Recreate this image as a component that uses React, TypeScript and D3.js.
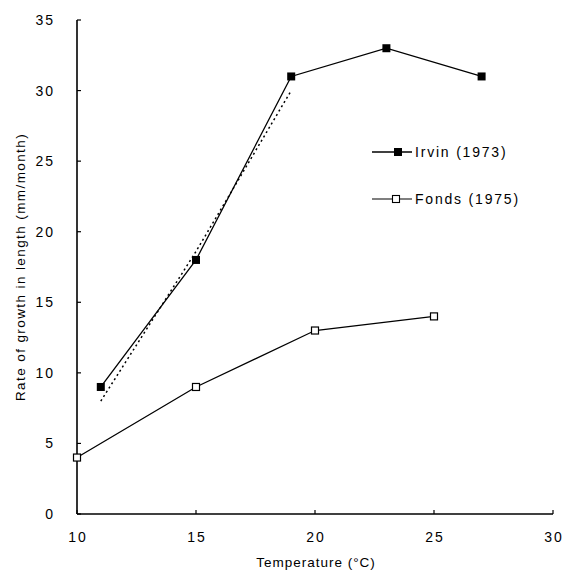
import React from "react";
import * as d3 from "d3";

const irvinTemp = [11, 15, 19, 23, 27];
const irvinRate = [9, 18, 31, 33, 31];
const fondsTemp = [10, 15, 20, 25];
const fondsRate = [4, 9, 13, 14];
const fitTemp = [11, 15, 19];
const fitRate = [8, 18.6, 30];
const xTicks = [10, 15, 20, 25, 30];
const yTicks = [0, 5, 10, 15, 20, 25, 30, 35];
const legendLabels = ["Irvin (1973)", "Fonds (1975)"];

export default function App() {
  const W = 574, H = 572;
  const x = d3.scaleLinear().domain([10, 30]).range([77, 553]);
  const y = d3.scaleLinear().domain([0, 35]).range([514, 20]);
  const line = d3.line<[number, number]>().x(d => x(d[0])).y(d => y(d[1]));
  const irvin = irvinTemp.map((t, i) => [t, irvinRate[i]] as [number, number]);
  const fonds = fondsTemp.map((t, i) => [t, fondsRate[i]] as [number, number]);
  const fit = fitTemp.map((t, i) => [t, fitRate[i]] as [number, number]);
  const font = "Liberation Sans, Arial, sans-serif";
  const ms = 8;
  return (
    <svg width={W} height={H} style={{ position: "absolute", left: 0, top: 0, background: "#fff" }} fontFamily={font}>
      <rect width={W} height={H} fill="#fff" />
      {/* axes */}
      <line x1={x(10)} x2={x(30)} y1={y(0)} y2={y(0)} stroke="#000" strokeWidth={1.5} />
      <line x1={x(10)} x2={x(10)} y1={y(0)} y2={y(35)} stroke="#000" strokeWidth={1.6} />
      {xTicks.map(t => (
        <g key={"x" + t}>
          <line x1={x(t)} x2={x(t)} y1={y(0)} y2={y(0) - 4} stroke="#000" strokeWidth={1.2} />
          <text x={x(t) + 1} y={542} textAnchor="middle" fontSize={14} letterSpacing={2}>{t}</text>
        </g>
      ))}
      {yTicks.map(t => (
        <g key={"y" + t}>
          <line x1={x(10)} x2={x(10) + 4} y1={y(t)} y2={y(t)} stroke="#000" strokeWidth={1.2} />
          <text x={55} y={y(t) + 5} textAnchor="end" fontSize={14} letterSpacing={2}>{t}</text>
        </g>
      ))}
      <text x={(x(10) + x(30)) / 2 + 1} y={567} textAnchor="middle" fontSize={13.5} letterSpacing={1}>Temperature (°C)</text>
      <text transform={`translate(25,${(y(0) + y(35)) / 2}) rotate(-90)`} textAnchor="middle" fontSize={13.5} letterSpacing={1.4}>
        Rate of growth in length (mm/month)
      </text>
      {/* fit dotted line */}
      <path d={line(fit) || ""} fill="none" stroke="#000" strokeWidth={1.5} strokeDasharray="2,3" />
      {/* series */}
      <path d={line(irvin) || ""} fill="none" stroke="#000" strokeWidth={1.3} />
      <path d={line(fonds) || ""} fill="none" stroke="#000" strokeWidth={1.3} />
      {irvin.map((d, i) => (
        <rect key={"i" + i} x={x(d[0]) - ms / 2} y={y(d[1]) - ms / 2} width={ms} height={ms} fill="#000" />
      ))}
      {fonds.map((d, i) => (
        <rect key={"f" + i} x={x(d[0]) - ms / 2 + 0.5} y={y(d[1]) - ms / 2 + 0.5} width={ms - 1} height={ms - 1} fill="#fff" stroke="#000" strokeWidth={1.2} />
      ))}
      {/* legend */}
      <g>
        <line x1={372} x2={412} y1={152} y2={152} stroke="#000" strokeWidth={1.3} />
        <rect x={394} y={148} width={8} height={8} fill="#000" />
        <text x={415} y={157} fontSize={14} letterSpacing={1.8}>{legendLabels[0]}</text>
        <line x1={372} x2={412} y1={199} y2={199} stroke="#000" strokeWidth={1.1} />
        <rect x={392.5} y={195.5} width={7} height={7} fill="#fff" stroke="#000" strokeWidth={1.1} />
        <text x={415} y={204} fontSize={14} letterSpacing={1.8}>{legendLabels[1]}</text>
      </g>
    </svg>
  );
}
